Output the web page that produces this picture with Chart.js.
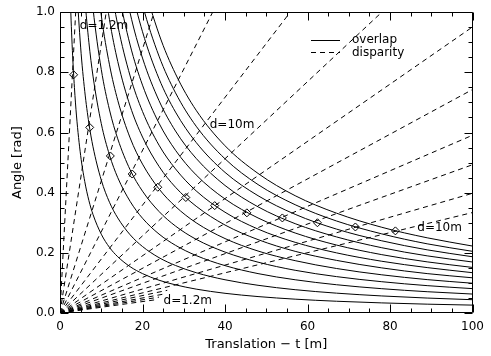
<!DOCTYPE html>
<html>
<head>
<meta charset="utf-8">
<script src="https://cdn.jsdelivr.net/npm/chart.js@4/dist/chart.umd.min.js"></script>
<style>
  html, body { margin: 0; padding: 0; background: #fff; }
  #wrap { width: 491px; height: 356px; position: relative; }
</style>
</head>
<body>
<div id="wrap"><canvas id="c" width="491" height="356"></canvas></div>
<script>
// ---- data ----
const dValues = [1.2, 2.0, 2.8, 3.6, 4.4, 5.2, 6.0, 6.8, 7.6, 8.4, 9.2, 10.0];

// translation samples (m) at which the overlap curves were read
const transT = [2, 2.5, 3, 3.5, 4, 5, 6, 7, 8, 10, 12, 14, 17, 20, 24, 28, 33, 40, 48, 57, 67, 78, 89, 100];

// overlap curves (angle in rad), one per d
const ov_1_2 = [1.31,1.048,0.873,0.749,0.655,0.524,0.437,0.374,0.3275,0.262,0.218,0.187,0.154,0.131,0.109,0.0936,0.0794,0.0655,0.0546,0.046,0.0391,0.0336,0.0294,0.0262];
const ov_2_0 = [2.21,1.768,1.473,1.263,1.105,0.884,0.737,0.631,0.5525,0.442,0.368,0.316,0.26,0.221,0.184,0.158,0.134,0.1105,0.0921,0.0775,0.066,0.0567,0.0497,0.0442];
const ov_2_8 = [null,null,2.1,1.8,1.575,1.26,1.05,0.9,0.7875,0.63,0.525,0.45,0.371,0.315,0.2625,0.225,0.191,0.1575,0.131,0.1105,0.094,0.0808,0.0708,0.063];
const ov_3_6 = [null,null,null,null,2.025,1.62,1.35,1.157,1.0125,0.81,0.675,0.579,0.476,0.405,0.3375,0.289,0.245,0.2025,0.169,0.142,0.121,0.104,0.091,0.081];
const ov_4_4 = [null,null,null,null,null,1.98,1.65,1.414,1.2375,0.99,0.825,0.707,0.582,0.495,0.4125,0.354,0.3,0.2475,0.206,0.174,0.148,0.127,0.111,0.099];
const ov_5_2 = [null,null,null,null,null,null,1.95,1.671,1.4625,1.17,0.975,0.836,0.688,0.585,0.4875,0.418,0.355,0.2925,0.244,0.205,0.175,0.15,0.131,0.117];
const ov_6_0 = [null,null,null,null,null,null,null,1.914,1.675,1.34,1.117,0.957,0.788,0.67,0.558,0.479,0.406,0.335,0.279,0.235,0.2,0.172,0.151,0.134];
const ov_6_8 = [null,null,null,null,null,null,null,null,1.894,1.515,1.2625,1.082,0.891,0.7575,0.631,0.541,0.459,0.379,0.316,0.266,0.226,0.194,0.17,0.1515];
const ov_7_6 = [null,null,null,null,null,null,null,null,2.119,1.695,1.4125,1.211,0.997,0.8475,0.706,0.605,0.514,0.424,0.353,0.297,0.253,0.217,0.19,0.1695];
const ov_8_4 = [null,null,null,null,null,null,null,null,null,1.87,1.558,1.336,1.1,0.935,0.779,0.668,0.567,0.4675,0.39,0.328,0.279,0.24,0.21,0.187];
const ov_9_2 = [null,null,null,null,null,null,null,null,null,2.05,1.708,1.464,1.206,1.025,0.854,0.732,0.621,0.5125,0.427,0.36,0.306,0.263,0.23,0.205];
const ov_10_0 = [null,null,null,null,null,null,null,null,null,null,1.854,1.589,1.309,1.1125,0.927,0.795,0.674,0.556,0.464,0.39,0.332,0.285,0.25,0.2225];

// disparity lines: straight from the origin to where they leave the plot
const dispEndT     = [3.8, 11.2, 22.8, 37.0, 55.8, 78.0, 100, 100, 100, 100, 100, 100, 26, 25, 24, 23];
const dispEndAngle = [1.0, 1.0, 1.0, 1.0, 1.0, 1.0, 0.951, 0.743, 0.591, 0.493, 0.398, 0.334, 0.0754, 0.0625, 0.0528, 0.0437];

// marked intersections (diamonds)
const diamondT     = [3.3, 7.2, 12.2, 17.5, 23.7, 30.5, 37.5, 45.3, 53.9, 62.4, 71.6, 81.3];
const diamondAngle = [0.792, 0.617, 0.522, 0.462, 0.418, 0.384, 0.357, 0.333, 0.316, 0.300, 0.286, 0.273];

// tick labels / text
const xTickStep = 20, yTickStep = 0.2;
const xTitle = 'Translation \u2212 t [m]';
const yTitle = 'Angle [rad]';
const legendNames = ['overlap', 'disparity'];
const curveLabels = [
  { text: 'd=1.2m', t: 4.8,  a: 0.953 },
  { text: 'd=10m',  t: 36.3, a: 0.627 },
  { text: 'd=10m',  t: 86.6, a: 0.282 },
  { text: 'd=1.2m', t: 25.1, a: 0.039 }
];

// ---- build datasets ----
const overlapSeries = [ov_1_2, ov_2_0, ov_2_8, ov_3_6, ov_4_4, ov_5_2, ov_6_0, ov_6_8, ov_7_6, ov_8_4, ov_9_2, ov_10_0];
const FONT = "'DejaVu Sans', sans-serif";
const datasets = [];

dispEndT.forEach((t, i) => {
  datasets.push({
    type: 'scatter', showLine: true,
    data: [{x: 0, y: 0}, {x: t, y: dispEndAngle[i]}],
    borderColor: '#000', borderWidth: 1, borderDash: [5, 4],
    pointRadius: 0, fill: false
  });
});
overlapSeries.forEach((arr) => {
  const pts = [];
  arr.forEach((v, i) => { if (v !== null) pts.push({x: transT[i], y: v}); });
  datasets.push({
    type: 'scatter', showLine: true, data: pts,
    borderColor: '#000', borderWidth: 1, cubicInterpolationMode: 'monotone',
    pointRadius: 0, fill: false
  });
});
datasets.push({
  type: 'scatter', showLine: false,
  data: diamondT.map((t, i) => ({x: t, y: diamondAngle[i]})),
  pointStyle: 'rectRot', pointRadius: 4, pointBorderWidth: 1,
  pointBorderColor: '#000', pointBackgroundColor: 'rgba(0,0,0,0)'
});

const decor = {
  id: 'decor',
  afterDatasetsDraw(chart) {
    const {ctx, chartArea: a, scales: {x, y}} = chart;
    ctx.save();
    ctx.strokeStyle = '#000';
    ctx.lineWidth = 1;
    ctx.setLineDash([]);
    const L = Math.round(a.left) + 0.5, R = Math.round(a.right) - 0.5;
    const T = Math.round(a.top) + 0.5, B = Math.round(a.bottom) - 0.5;
    ctx.beginPath();
    ctx.rect(L, T, R - L, B - T);
    for (let i = 0; i <= 20; i++) {
      const v = i * 5;
      const px = Math.round(x.getPixelForValue(v)) + 0.5;
      const len = (v % 20 === 0) ? 8 : 4;
      ctx.moveTo(px, B); ctx.lineTo(px, B - len);
      ctx.moveTo(px, T); ctx.lineTo(px, T + len);
    }
    for (let i = 0; i <= 20; i++) {
      const v = i * 0.05;
      const py = Math.round(y.getPixelForValue(v)) + 0.5;
      const len = (i % 4 === 0) ? 8 : 4;
      ctx.moveTo(L, py); ctx.lineTo(L + len, py);
      ctx.moveTo(R, py); ctx.lineTo(R - len, py);
    }
    ctx.stroke();

    // legend
    ctx.beginPath();
    ctx.moveTo(311, 40.5); ctx.lineTo(340, 40.5);
    ctx.stroke();
    ctx.setLineDash([5, 4]);
    ctx.beginPath();
    ctx.moveTo(311, 52.5); ctx.lineTo(340, 52.5);
    ctx.stroke();
    ctx.setLineDash([]);
    ctx.fillStyle = '#000';
    ctx.font = '12px ' + FONT;
    ctx.textBaseline = 'middle';
    ctx.textAlign = 'left';
    ctx.fillText(legendNames[0], 352, 40);
    ctx.fillText(legendNames[1], 352, 53);

    // curve labels
    curveLabels.forEach(l => {
      ctx.fillText(l.text, x.getPixelForValue(l.t), y.getPixelForValue(l.a));
    });
    ctx.restore();
  }
};

new Chart(document.getElementById('c'), {
  type: 'scatter',
  data: { datasets },
  options: {
    responsive: false,
    animation: false,
    events: [],
    layout: { padding: { top: 9, right: 12, left: 0, bottom: 0 } },
    plugins: { legend: { display: false }, tooltip: { enabled: false } },
    scales: {
      x: {
        type: 'linear', min: 0, max: 100,
        grid: { display: false, drawTicks: false },
        border: { display: false },
        ticks: { stepSize: xTickStep, color: '#000', font: { family: FONT, size: 12 }, padding: 7, maxRotation: 0 },
        title: { display: true, text: xTitle, color: '#000', font: { family: FONT, size: 13 }, padding: { top: 0, bottom: 4 } },
        afterFit: s => { s.height = 43; }
      },
      y: {
        type: 'linear', min: 0, max: 1,
        grid: { display: false, drawTicks: false },
        border: { display: false },
        ticks: { stepSize: yTickStep, color: '#000', font: { family: FONT, size: 12 }, padding: 5,
                 callback: v => Number(v).toFixed(1) },
        title: { display: true, text: yTitle, color: '#000', font: { family: FONT, size: 13 }, padding: { top: 10, bottom: 0 } },
        afterFit: s => { s.width = 60; }
      }
    }
  },
  plugins: [decor]
});
</script>
</body>
</html>
